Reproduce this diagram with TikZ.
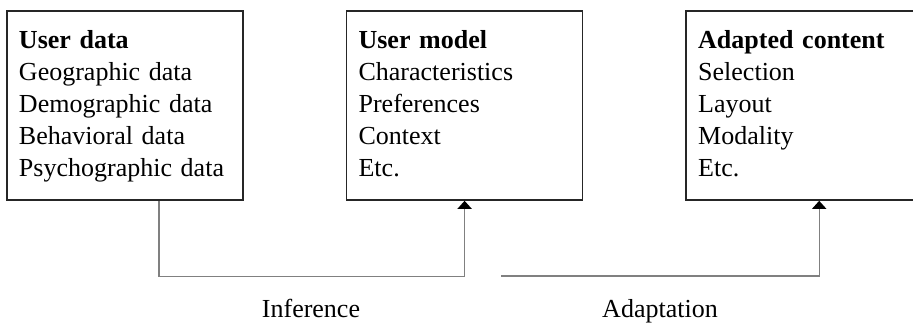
\documentclass[tikz,border=0pt]{standalone}
\usepackage{fontspec}
\setmainfont{Liberation Serif}
\usetikzlibrary{arrows.meta,positioning}

\begin{document}
\begin{tikzpicture}[x=1pt, y=1pt, node distance=102pt, font=\fontsize{26}{32}\selectfont, >={Triangle[width=14pt,length=8pt,color=black]}]
\tikzset{
  panel/.style={draw=black!85, line width=1.6pt, minimum width=236pt, minimum height=189pt, text width=212pt, inner xsep=11pt, align=left,
    execute at begin node={\rule{0pt}{20pt}}, execute at end node={\rule[-5pt]{0pt}{5pt}}},
  link/.style={->, draw=black!50, line width=1.4pt},
  caption/.style={inner sep=0pt, anchor=base},
}
\useasboundingbox (0,0) rectangle (913,324);
\clip (0,0) rectangle (913,324);

% Boxes
\node (data) [panel] at (125,218.5) {\textbf{User data}\\Geographic data\\Demographic data\\Behavioral data\\Psychographic data};
\node (model) [panel, right=of data] {\textbf{User model}\\Characteristics\\Preferences\\Context\\Etc.};
\node (content) [panel, right=of model] {\textbf{Adapted content}\\Selection\\Layout\\Modality\\Etc.};

% Connectors
\draw[link] ([xshift=34pt]data.south) -- ++(0,-76) -| (model.south);
\coordinate (adapt) at (501,48);
\draw[link] (adapt) -| ([xshift=15pt]content.south);

% Labels
\node (inf) [caption] at (311,6) {Inference};
\node (adp) [caption] at (660,6) {Adaptation};

\end{tikzpicture}
\end{document}
